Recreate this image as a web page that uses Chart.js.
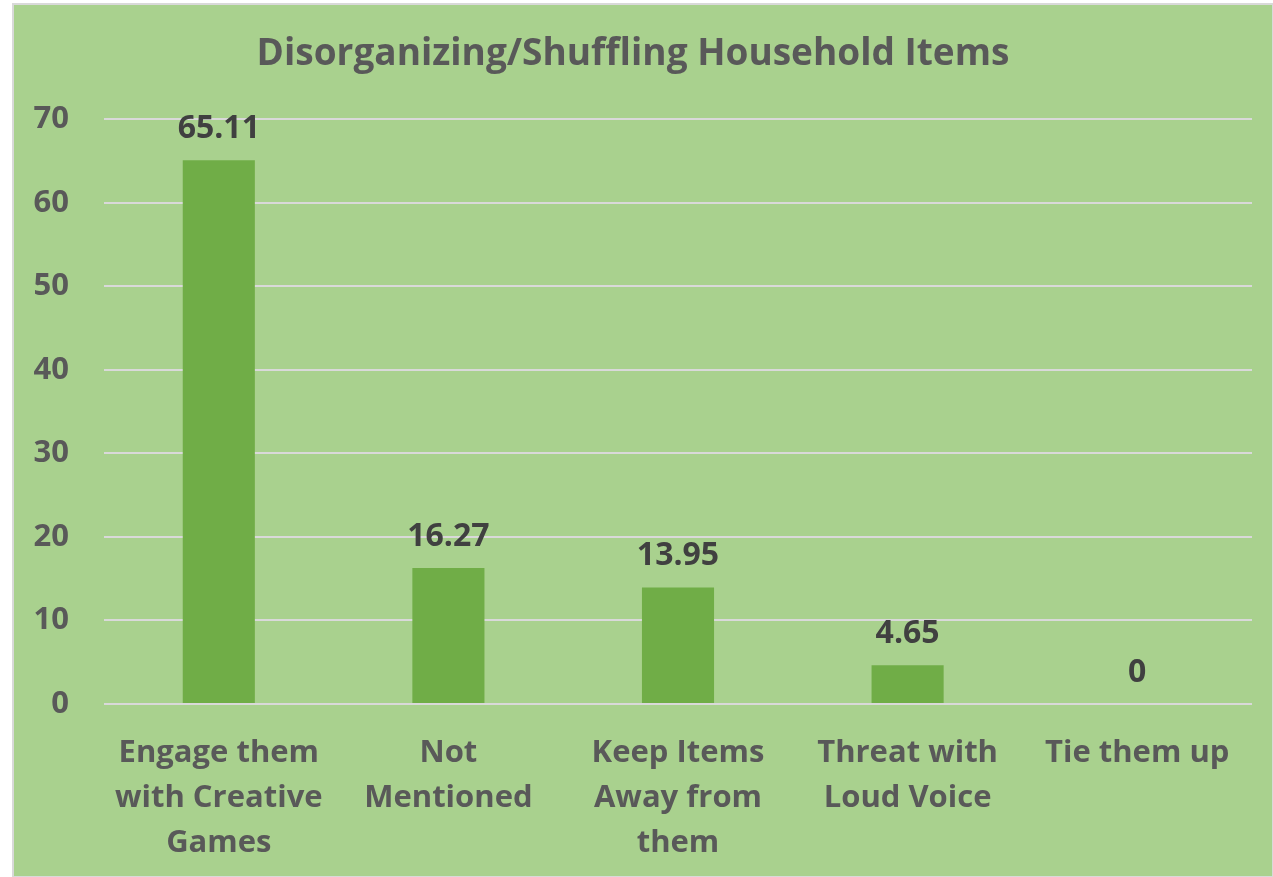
<!DOCTYPE html>
<html>
<head>
<meta charset="utf-8">
<script src="https://cdn.jsdelivr.net/npm/chart.js@4"></script>
<style>
  html, body { margin: 0; padding: 0; background: #fff; }
  #wrap {
    position: absolute; left: 12px; top: 3px;
    width: 1258px; height: 871px;
    background: #a9d18e; border: 2px solid #d9d9d9;
  }
</style>
</head>
<body>
<div id="wrap"><canvas id="chart"></canvas></div>
<script>
const categories = [
  ['Engage them', 'with Creative', 'Games'],
  ['Not', 'Mentioned'],
  ['Keep Items', 'Away from', 'them'],
  ['Threat with', 'Loud Voice'],
  ['Tie them up']
];
const values = [65.11, 16.27, 13.95, 4.65, 0];
const yTicks = [0, 10, 20, 30, 40, 50, 60, 70];

const FONT = '"Open Sans", sans-serif';

const valueLabels = {
  id: 'valueLabels',
  afterDatasetsDraw(chart) {
    const ctx = chart.ctx;
    const meta = chart.getDatasetMeta(0);
    ctx.save();
    ctx.font = 'bold 32px ' + FONT;
    ctx.fillStyle = '#404040';
    ctx.textAlign = 'center';
    ctx.textBaseline = 'alphabetic';
    meta.data.forEach((bar, i) => {
      ctx.fillText(String(values[i]), bar.x, bar.y - 22);
    });
    ctx.restore();
  }
};

new Chart(document.getElementById('chart').getContext('2d'), {
  type: 'bar',
  data: {
    labels: categories,
    datasets: [{
      data: values,
      backgroundColor: '#70ad47',
      categoryPercentage: 0.314,
      barPercentage: 1
    }]
  },
  options: {
    responsive: true,
    maintainAspectRatio: false,
    animation: false,
    layout: { padding: { top: 27, right: 20, bottom: 0, left: 0 } },
    plugins: {
      legend: { display: false },
      tooltip: { enabled: false },
      title: {
        display: true,
        text: 'Disorganizing/Shuffling Household Items',
        color: '#595959',
        font: { family: FONT, size: 37, weight: 'bold' },
        padding: { top: 0, bottom: 43 }
      }
    },
    scales: {
      x: {
        grid: { display: false },
        border: { display: false },
        ticks: {
          color: '#595959',
          font: { family: FONT, size: 31, weight: 'bold', lineHeight: 1.45 },
          maxRotation: 0,
          autoSkip: false,
          padding: 19
        },
        afterFit(scale) { scale.height = 172; }
      },
      y: {
        min: 0,
        max: 70,
        afterBuildTicks(scale) { scale.ticks = yTicks.map(v => ({ value: v })); },
        grid: { color: '#d9d9d9', lineWidth: 2, drawTicks: false },
        border: { display: false },
        ticks: {
          color: '#595959',
          font: { family: FONT, size: 31, weight: 'bold' },
          padding: 35
        },
        afterFit(scale) { scale.width = 90; }
      }
    }
  },
  plugins: [valueLabels]
});
</script>
</body>
</html>
